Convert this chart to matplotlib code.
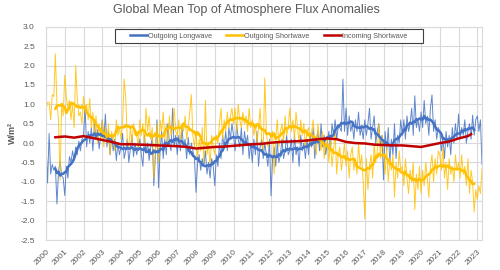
import numpy as np
import pandas as pd
import matplotlib
matplotlib.use('Agg')
import matplotlib.pyplot as plt
from matplotlib.patches import Rectangle

plt.rcParams['font.family'] = ['Liberation Sans', 'DejaVu Sans']

# monthly anomalies (W/m2), Jan 2000 .. Apr 2023, one row per year
outgoing_longwave = [
    0.0, -1.03, 0.25, -0.8, -0.55, -0.7, -0.6, -1.57, -0.75, -0.45, -0.85, -0.9,   # 2000
    -1.35, -0.6, -0.9, -0.35, -0.5, -0.2, -0.45, -0.1, -0.3, 0.05, -0.2, 0.1,     # 2001
    0.2, 0.93, -0.1, 0.3, 0.0, 0.4, -0.2, 0.5, 0.1, 0.35, -0.15, 0.2,             # 2002
    0.6, 0.1, 0.75, -0.1, 0.3, -0.3, 0.2, -0.2, 0.1, -0.45, 0.0, -0.3,            # 2003
    -0.1, 0.25, -0.4, -0.2, 0.1, -0.5, -0.15, 0.2, -0.35, 0.0, -0.3, -0.1,        # 2004
    0.1, -0.3, -0.6, 0.2, -0.25, 0.0, -0.45, -0.1, 0.15, -1.1, -0.3, 0.6,         # 2005
    -1.15, -0.2, 0.3, -0.4, 0.1, -0.3, 0.5, 0.0, -0.2, 0.9, -0.1, 0.2,            # 2006
    -0.3, 0.2, -0.2, 0.4, -0.1, 0.1, -0.4, 0.15, -0.3, 0.0, -0.2, -0.4,           # 2007
    -1.27, -0.5, -0.3, -0.7, -0.4, -0.6, -0.2, -0.8, -0.5, -0.9, -0.4, -0.6,      # 2008
    -1.1, -0.3, -0.6, 0.0, -0.4, 0.2, -0.1, 0.3, -0.2, 0.4, 0.1, 0.5,             # 2009
    0.2, -0.2, 0.5, 0.1, -0.1, 0.4, -0.3, 0.3, 0.0, 0.2, -0.4, 0.0,               # 2010
    -0.5, 0.1, -0.3, 0.3, -0.6, -0.1, 0.1, -0.4, 0.0, -0.3, -0.6, 0.1,            # 2011
    -1.36, -0.4, -0.1, -0.6, 0.0, -0.5, -0.3, 0.1, -0.4, -0.2, 0.2, -0.3,         # 2012
    -0.2, 0.1, -0.5, 0.2, -0.3, -0.1, -0.6, 0.2, -0.2, 0.0, -0.4, 0.1,            # 2013
    -0.3, 0.2, -0.1, 0.4, -0.4, 0.1, 0.3, -0.2, 0.5, -0.1, 0.2, -0.3,             # 2014
    0.0, 0.3, -0.2, 0.5, 0.2, 0.6, 0.1, 0.4, 0.4, 0.3, 1.65, 0.3,                 # 2015
    0.9, 0.2, 0.7, 0.3, 0.5, 0.1, 0.6, 0.3, 0.8, 0.2, 0.4, 0.1,                   # 2016
    0.6, 0.2, 0.5, 0.9, 0.1, 0.4, 0.7, 0.0, 0.3, 0.5, -0.1, 0.2,                  # 2017
    -0.95, 0.3, -0.2, 0.4, -0.5, 0.1, -0.3, 0.5, -0.4, 0.2, 0.0, 0.6,             # 2018
    0.2, 0.6, 0.1, 0.7, 0.3, 0.5, 0.9, 0.2, 1.22, 0.4, 0.6, 0.3,                  # 2019
    0.8, 0.4, 1.1, 0.5, 0.7, 0.2, 0.9, 1.24, 0.3, 0.6, 0.1, 0.4,                  # 2020
    0.3, -0.2, 0.1, -0.4, 0.3, -0.1, 0.2, -0.3, 0.4, 0.0, 0.5, 0.1,               # 2021
    0.75, 0.1, 0.4, 0.2, 0.6, 0.0, 0.3, 0.5, 0.1, 0.72, 0.2, 0.6,                 # 2022
    0.7, 0.3, 0.6, -0.55,                                                         # 2023
]

outgoing_shortwave = [
    0.85, 1.05, 1.05, 0.6, 1.25, 1.2, 2.3, 1.0, 0.6, -0.95, 1.0, 0.7,             # 2000
    1.75, 1.2, 0.9, 1.1, 0.6, 1.0, 0.4, 2.0, 1.15, 0.7, 0.8, 0.5,                 # 2001
    1.2, 0.9, 1.0, 0.6, 1.15, 0.4, 0.8, 0.2, 0.7, 0.0, 0.5, 0.1,                  # 2002
    0.6, -0.1, 0.4, 0.0, 0.5, -0.3, 0.3, 0.1, -0.2, 0.6, 0.2, 0.4,                # 2003
    0.1, 0.5, 1.65, 1.2, 0.1, -0.1, 0.4, 0.0, 0.5, 0.2, 0.3, -0.2,                # 2004
    0.6, 0.2, 0.5, -0.1, 0.9, 0.3, 0.7, 0.1, 0.4, -0.9, -0.2, 0.5,                # 2005
    -0.5, 0.6, 0.3, 0.8, 0.1, 0.5, 0.0, 0.7, 0.2, 0.4, 0.9, 0.3,                  # 2006
    0.2, 0.6, 0.0, 0.5, 0.3, 0.7, 0.1, 0.4, 0.8, 1.25, 0.2, -0.1,                 # 2007
    0.3, -0.4, 0.1, -0.2, 0.4, -0.5, 1.1, -0.3, 0.0, -0.6, 0.2, -0.1,             # 2008
    -0.3, 0.2, 0.0, 0.5, 0.9, 0.1, 0.6, 0.3, 0.8, 0.4, 0.7, 0.9,                  # 2009
    0.5, 0.9, 0.3, 1.0, 0.6, 0.4, 0.8, 0.5, 0.7, 0.3, 0.9, 0.4,                   # 2010
    0.6, 0.2, 0.5, 0.0, 0.4, 0.9, 0.1, -0.2, 1.68, 0.3, -0.1, 0.0,                # 2011
    0.2, 0.3, -0.8, 0.1, 0.6, -0.1, 0.3, 0.5, 0.0, 0.7, 0.2, 0.4,                 # 2012
    0.9, 0.3, 0.6, 0.1, 0.8, 0.4, 0.0, 0.6, 0.2, 0.5, -0.1, 0.3,                  # 2013
    0.4, -0.1, 0.3, 0.6, 0.0, -0.3, 0.5, 0.1, -0.2, 0.3, -0.4, 0.0,               # 2014
    0.2, -0.5, 0.1, -0.6, -0.2, 0.3, -0.8, -0.3, -0.1, -0.7, -0.4, 0.0,           # 2015
    -0.6, -0.2, -0.9, -0.3, -0.1, -0.7, -0.4, -0.8, 0.0, -0.6, -0.3, -1.0,        # 2016
    -1.95, -0.4, -1.2, -0.6, -0.3, -0.9, 0.0, -0.5, -0.2, 0.5, -0.4, 0.2,         # 2017
    -0.2, -0.8, -0.1, -1.0, -0.4, -0.7, -0.3, -1.4, -0.5, -0.9, -0.2, -0.7,       # 2018
    -0.6, -1.1, -0.4, -0.9, -1.3, -0.7, -1.0, -0.5, -1.72, -0.8, -1.2, -0.6,      # 2019
    -1.3, -0.7, -1.1, -0.5, -0.9, -1.4, -0.6, -0.3, -1.0, -0.4, -0.8, -0.2,       # 2020
    -0.3, -0.7, -0.1, -0.9, -0.5, -1.2, -0.4, -0.8, -0.6, -1.0, -0.3, -0.7,       # 2021
    -0.5, -0.9, -0.3, -0.8, -0.6, -1.1, -0.4, -1.3, -0.7, -1.0, -1.78, -1.2,      # 2022
    -1.45, -1.1, -1.3, -0.65,                                                     # 2023
]

# incoming shortwave, 12-month mean only
incoming_years = [2000.5, 2001, 2001.5, 2002, 2002.5, 2003, 2003.5, 2004, 2004.5,
                  2005, 2005.5, 2006, 2006.5, 2007, 2007.5, 2008, 2008.5, 2009,
                  2009.5, 2010, 2010.5, 2011, 2011.5, 2012, 2012.5, 2013, 2013.5,
                  2014, 2014.5, 2015, 2015.5, 2016, 2016.5, 2017, 2017.5, 2018,
                  2018.5, 2019, 2019.5, 2020, 2020.5, 2021, 2021.5, 2022, 2022.5,
                  2022.67]
incoming_shortwave = [0.15, 0.17, 0.14, 0.18, 0.13, 0.08, 0.03, -0.03, -0.03,
                      -0.04, -0.05, -0.06, -0.07, -0.08, -0.1, -0.14, -0.12, -0.1,
                      -0.09, -0.07, -0.05, -0.03, -0.02, 0.01, 0.03, 0.04, 0.05,
                      0.07, 0.1, 0.12, 0.1, 0.03, 0.0, -0.01, -0.04, -0.05,
                      -0.06, -0.06, -0.08, -0.1, -0.05, 0.0, 0.04, 0.12, 0.18,
                      0.23]

year_ticks = list(range(2000, 2024))

BLUE = '#4472C4'
GOLD = '#FFC000'
RED = '#C00000'
GRAY = '#595959'

t = 2000 + np.arange(len(outgoing_longwave)) / 12.0
df = pd.DataFrame({'olr': outgoing_longwave, 'osr': outgoing_shortwave}, index=t)
smooth = df.rolling(12, center=True).mean()

fig = plt.figure(figsize=(5, 2.7), dpi=100)
ax = fig.add_axes([0.092, 0.111, 0.872, 0.79])

ax.plot(df.index, df['olr'], color=BLUE, lw=0.7, alpha=0.85)
ax.plot(df.index, df['osr'], color=GOLD, lw=0.7, alpha=0.85)
l1, = ax.plot(smooth.index, smooth['olr'], color=BLUE, lw=1.8, label='Outgoing Longwave')
l2, = ax.plot(smooth.index, smooth['osr'], color=GOLD, lw=1.8, label='Outgoing Shortwave')
l3, = ax.plot(incoming_years, incoming_shortwave, color=RED, lw=1.8, label='Incoming Shortwave')

ax.set_xlim(2000, 2023.25)
ax.set_ylim(-2.5, 3.0)
ax.set_yticks(np.arange(-2.5, 3.01, 0.5))
ax.set_yticklabels([f'{v:.1f}' for v in np.arange(-2.5, 3.01, 0.5)])
ax.set_xticks(year_ticks)
ax.set_xticklabels([str(y) for y in year_ticks], rotation=45, ha='right',
                   rotation_mode='anchor')
ax.tick_params(length=0, labelsize=6, colors=GRAY)
ax.tick_params(axis='y', pad=8)
ax.tick_params(axis='x', pad=6)
ax.grid(True, color='#d9d9d9', lw=0.8)
ax.set_axisbelow(True)
for s in ax.spines.values():
    s.set_color('#d9d9d9')
    s.set_linewidth(0.8)

ax.set_ylabel('W/m²', fontsize=6.5, fontweight='bold', color=GRAY)
ax.yaxis.set_label_coords(-0.066, 0.5)
fig.text(0.493, 0.962, 'Global Mean Top of Atmosphere Flux Anomalies',
         fontsize=9, color=GRAY, ha='center', va='center')

# legend box drawn by hand, entries placed with a frameless legend
fig.patches.append(Rectangle((115 / 500, 1 - 43 / 270), 308 / 500, 14 / 270,
                             transform=fig.transFigure, facecolor='white',
                             edgecolor='#404040', lw=0.8, zorder=5))
leg = fig.legend(handles=[l1, l2, l3], loc='center left', ncol=3, fontsize=5.2,
                 bbox_to_anchor=(130 / 500, 1 - 36 / 270), frameon=False,
                 handlelength=2.35, handletextpad=0.15, columnspacing=1.95,
                 borderpad=0, borderaxespad=0, labelcolor=GRAY)
leg.set_zorder(6)

fig.savefig('out.png', dpi=100)
